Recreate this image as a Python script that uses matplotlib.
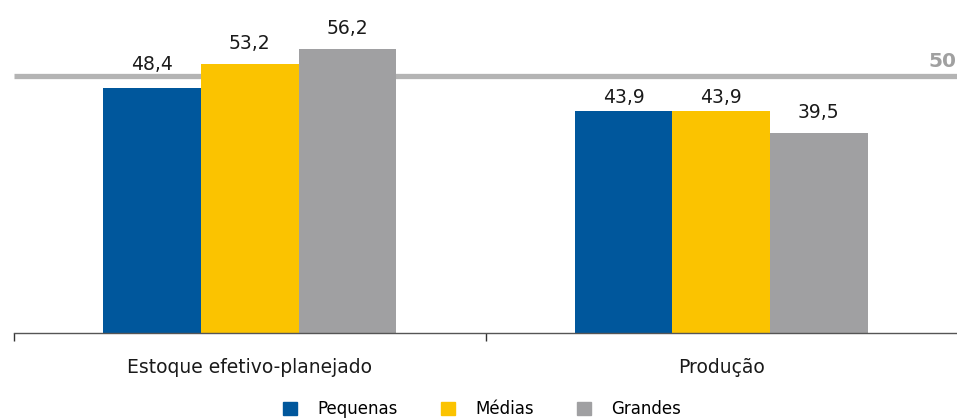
import numpy as np
import matplotlib
matplotlib.use('Agg')
import matplotlib.pyplot as plt
import matplotlib.transforms as mtransforms
from matplotlib.patches import Patch

plt.rcParams['font.family'] = ['DejaVu Sans']

categories = ['Estoque efetivo-planejado', 'Produção']
series = ['Pequenas', 'Médias', 'Grandes']
values = {
    'Pequenas': [48.4, 43.9],
    'Médias': [53.2, 43.9],
    'Grandes': [56.2, 39.5],
}
reference = 50
colors = ['#00579c', '#fbc300', '#a0a0a2']

fig = plt.figure(figsize=(9.57, 4.19), dpi=100)
ax = fig.add_axes([14 / 957, 86.3 / 419, 943 / 957, 303 / 419])

x = np.arange(len(categories))
width = 0.207
# gap (points) between bar top and value label, nudged where the label meets the line
label_gap = [[13.5, 6], [11, 6], [11, 11]]

for i, name in enumerate(series):
    pos = x + (i - 1) * width
    bars = ax.bar(pos, values[name], width, color=colors[i], zorder=2)
    for j, b in enumerate(bars):
        v = values[name][j]
        ax.annotate(f'{v:.1f}'.replace('.', ','), (b.get_x() + b.get_width() / 2, v),
                    xytext=(0, label_gap[i][j]), textcoords='offset points',
                    ha='center', va='baseline', fontsize=13.5, color='#1a1a1a')

# reference line at 50
shift = mtransforms.ScaledTranslation(0, 4.5 / 100, fig.dpi_scale_trans)
ax.plot([0, 1], [reference, reference], color='#b4b4b4', lw=3.8, zorder=1,
        transform=ax.get_yaxis_transform() + shift, solid_capstyle='butt')
fig.text(956 / 957, 1 - 67 / 419, str(reference), ha='right', va='baseline',
         fontsize=14.5, fontweight='bold', color='#a0a0a0')

ax.set_xlim(-0.5, 1.5)
ax.set_ylim(0, 60)
for s in ['left', 'top', 'right']:
    ax.spines[s].set_visible(False)
ax.spines['bottom'].set_color('#555555')
ax.spines['bottom'].set_linewidth(1.0)
ax.set_yticks([])
ax.set_xticks(x)
ax.set_xticklabels(categories, fontsize=13.5, color='#1a1a1a')
ax.tick_params(axis='x', which='major', length=0, pad=18.5)
ax.set_xticks([-0.5, 0.5], minor=True)
ax.tick_params(axis='x', which='minor', length=5.8, width=1.0, color='#333333')

handles = [Patch(color=c, label=n) for c, n in zip(colors, series)]
fig.legend(handles=handles, loc='center', bbox_to_anchor=(482 / 957, 10 / 419),
           ncol=3, frameon=False, fontsize=12, handlelength=0.85, handleheight=0.85,
           handletextpad=1.2, columnspacing=2.6, borderpad=0)

fig.savefig('out.png', dpi=100)
